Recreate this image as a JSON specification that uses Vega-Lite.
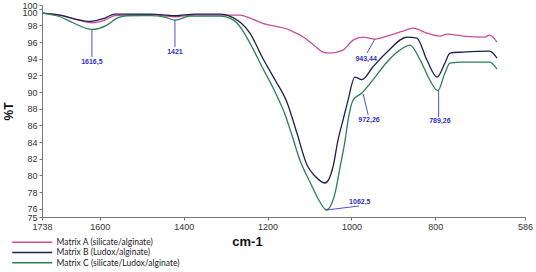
{
  "$schema": "https://vega.github.io/schema/vega-lite/v6.json",
  "width": 483,
  "height": 212,
  "autosize": "none",
  "padding": {"left": 42, "top": 5, "right": 11, "bottom": 55},
  "background": "white",
  "config": {
    "view": {"stroke": null},
    "font": "Liberation Sans",
    "axis": {"labelOverlap": false, "labelFlush": false, "grid": false, "labelFontSize": 9, "labelColor": "#333", "domainColor": "#777", "tickColor": "#777", "tickSize": 3, "titleColor": "#111", "titleFontWeight": "bold"}
  },
  "datasets": {
    "spectra": [
      {"series": "Matrix A (silicate/alginate)", "wn": 1738, "t": 99.48},
      {"series": "Matrix A (silicate/alginate)", "wn": 1695, "t": 99.24},
      {"series": "Matrix A (silicate/alginate)", "wn": 1659, "t": 98.76},
      {"series": "Matrix A (silicate/alginate)", "wn": 1619, "t": 98.32},
      {"series": "Matrix A (silicate/alginate)", "wn": 1588, "t": 98.64},
      {"series": "Matrix A (silicate/alginate)", "wn": 1564, "t": 99.18},
      {"series": "Matrix A (silicate/alginate)", "wn": 1480, "t": 99.3},
      {"series": "Matrix A (silicate/alginate)", "wn": 1421, "t": 99.04},
      {"series": "Matrix A (silicate/alginate)", "wn": 1373, "t": 99.24},
      {"series": "Matrix A (silicate/alginate)", "wn": 1266, "t": 99.24},
      {"series": "Matrix A (silicate/alginate)", "wn": 1242, "t": 98.88},
      {"series": "Matrix A (silicate/alginate)", "wn": 1213, "t": 98.28},
      {"series": "Matrix A (silicate/alginate)", "wn": 1147, "t": 97.44},
      {"series": "Matrix A (silicate/alginate)", "wn": 1111, "t": 96.48},
      {"series": "Matrix A (silicate/alginate)", "wn": 1087, "t": 95.52},
      {"series": "Matrix A (silicate/alginate)", "wn": 1068, "t": 94.8},
      {"series": "Matrix A (silicate/alginate)", "wn": 1051, "t": 94.68},
      {"series": "Matrix A (silicate/alginate)", "wn": 1020, "t": 95.04},
      {"series": "Matrix A (silicate/alginate)", "wn": 996, "t": 96.24},
      {"series": "Matrix A (silicate/alginate)", "wn": 972, "t": 96.6},
      {"series": "Matrix A (silicate/alginate)", "wn": 944, "t": 96.36},
      {"series": "Matrix A (silicate/alginate)", "wn": 915, "t": 96.72},
      {"series": "Matrix A (silicate/alginate)", "wn": 877, "t": 97.32},
      {"series": "Matrix A (silicate/alginate)", "wn": 853, "t": 97.68},
      {"series": "Matrix A (silicate/alginate)", "wn": 820, "t": 97.08},
      {"series": "Matrix A (silicate/alginate)", "wn": 789, "t": 96.72},
      {"series": "Matrix A (silicate/alginate)", "wn": 772, "t": 96.96},
      {"series": "Matrix A (silicate/alginate)", "wn": 734, "t": 96.72},
      {"series": "Matrix A (silicate/alginate)", "wn": 682, "t": 96.6},
      {"series": "Matrix A (silicate/alginate)", "wn": 670, "t": 96.84},
      {"series": "Matrix A (silicate/alginate)", "wn": 653, "t": 96.0},
      {"series": "Matrix B (Ludox/alginate)", "wn": 1738, "t": 99.48},
      {"series": "Matrix B (Ludox/alginate)", "wn": 1695, "t": 99.24},
      {"series": "Matrix B (Ludox/alginate)", "wn": 1659, "t": 98.76},
      {"series": "Matrix B (Ludox/alginate)", "wn": 1623, "t": 98.48},
      {"series": "Matrix B (Ludox/alginate)", "wn": 1588, "t": 98.88},
      {"series": "Matrix B (Ludox/alginate)", "wn": 1564, "t": 99.36},
      {"series": "Matrix B (Ludox/alginate)", "wn": 1480, "t": 99.36},
      {"series": "Matrix B (Ludox/alginate)", "wn": 1421, "t": 99.16},
      {"series": "Matrix B (Ludox/alginate)", "wn": 1373, "t": 99.36},
      {"series": "Matrix B (Ludox/alginate)", "wn": 1313, "t": 99.36},
      {"series": "Matrix B (Ludox/alginate)", "wn": 1290, "t": 99.12},
      {"series": "Matrix B (Ludox/alginate)", "wn": 1266, "t": 98.4},
      {"series": "Matrix B (Ludox/alginate)", "wn": 1242, "t": 97.08},
      {"series": "Matrix B (Ludox/alginate)", "wn": 1213, "t": 94.2},
      {"series": "Matrix B (Ludox/alginate)", "wn": 1182, "t": 91.44},
      {"series": "Matrix B (Ludox/alginate)", "wn": 1154, "t": 88.8},
      {"series": "Matrix B (Ludox/alginate)", "wn": 1130, "t": 85.08},
      {"series": "Matrix B (Ludox/alginate)", "wn": 1106, "t": 81.24},
      {"series": "Matrix B (Ludox/alginate)", "wn": 1087, "t": 79.92},
      {"series": "Matrix B (Ludox/alginate)", "wn": 1063, "t": 79.08},
      {"series": "Matrix B (Ludox/alginate)", "wn": 1044, "t": 81.0},
      {"series": "Matrix B (Ludox/alginate)", "wn": 1032, "t": 84.24},
      {"series": "Matrix B (Ludox/alginate)", "wn": 1020, "t": 86.64},
      {"series": "Matrix B (Ludox/alginate)", "wn": 1008, "t": 89.04},
      {"series": "Matrix B (Ludox/alginate)", "wn": 992, "t": 91.8},
      {"series": "Matrix B (Ludox/alginate)", "wn": 975, "t": 91.5},
      {"series": "Matrix B (Ludox/alginate)", "wn": 949, "t": 93.0},
      {"series": "Matrix B (Ludox/alginate)", "wn": 915, "t": 94.8},
      {"series": "Matrix B (Ludox/alginate)", "wn": 867, "t": 96.6},
      {"series": "Matrix B (Ludox/alginate)", "wn": 844, "t": 96.48},
      {"series": "Matrix B (Ludox/alginate)", "wn": 820, "t": 93.84},
      {"series": "Matrix B (Ludox/alginate)", "wn": 796, "t": 91.8},
      {"series": "Matrix B (Ludox/alginate)", "wn": 777, "t": 93.48},
      {"series": "Matrix B (Ludox/alginate)", "wn": 765, "t": 94.68},
      {"series": "Matrix B (Ludox/alginate)", "wn": 734, "t": 94.8},
      {"series": "Matrix B (Ludox/alginate)", "wn": 670, "t": 94.92},
      {"series": "Matrix B (Ludox/alginate)", "wn": 653, "t": 94.08},
      {"series": "Matrix C (silicate/Ludox/alginate)", "wn": 1738, "t": 99.48},
      {"series": "Matrix C (silicate/Ludox/alginate)", "wn": 1695, "t": 99.04},
      {"series": "Matrix C (silicate/Ludox/alginate)", "wn": 1664, "t": 98.32},
      {"series": "Matrix C (silicate/Ludox/alginate)", "wn": 1619, "t": 97.52},
      {"series": "Matrix C (silicate/Ludox/alginate)", "wn": 1583, "t": 98.04},
      {"series": "Matrix C (silicate/Ludox/alginate)", "wn": 1559, "t": 98.88},
      {"series": "Matrix C (silicate/Ludox/alginate)", "wn": 1535, "t": 99.16},
      {"series": "Matrix C (silicate/Ludox/alginate)", "wn": 1480, "t": 99.18},
      {"series": "Matrix C (silicate/Ludox/alginate)", "wn": 1445, "t": 99.0},
      {"series": "Matrix C (silicate/Ludox/alginate)", "wn": 1421, "t": 98.64},
      {"series": "Matrix C (silicate/Ludox/alginate)", "wn": 1385, "t": 99.12},
      {"series": "Matrix C (silicate/Ludox/alginate)", "wn": 1313, "t": 99.12},
      {"series": "Matrix C (silicate/Ludox/alginate)", "wn": 1290, "t": 98.88},
      {"series": "Matrix C (silicate/Ludox/alginate)", "wn": 1273, "t": 98.28},
      {"series": "Matrix C (silicate/Ludox/alginate)", "wn": 1242, "t": 95.88},
      {"series": "Matrix C (silicate/Ludox/alginate)", "wn": 1213, "t": 93.0},
      {"series": "Matrix C (silicate/Ludox/alginate)", "wn": 1182, "t": 90.0},
      {"series": "Matrix C (silicate/Ludox/alginate)", "wn": 1158, "t": 87.24},
      {"series": "Matrix C (silicate/Ludox/alginate)", "wn": 1142, "t": 84.84},
      {"series": "Matrix C (silicate/Ludox/alginate)", "wn": 1123, "t": 81.84},
      {"series": "Matrix C (silicate/Ludox/alginate)", "wn": 1099, "t": 79.2},
      {"series": "Matrix C (silicate/Ludox/alginate)", "wn": 1075, "t": 76.8},
      {"series": "Matrix C (silicate/Ludox/alginate)", "wn": 1060, "t": 75.84},
      {"series": "Matrix C (silicate/Ludox/alginate)", "wn": 1039, "t": 77.88},
      {"series": "Matrix C (silicate/Ludox/alginate)", "wn": 1027, "t": 81.0},
      {"series": "Matrix C (silicate/Ludox/alginate)", "wn": 1015, "t": 84.24},
      {"series": "Matrix C (silicate/Ludox/alginate)", "wn": 1008, "t": 86.64},
      {"series": "Matrix C (silicate/Ludox/alginate)", "wn": 996, "t": 89.04},
      {"series": "Matrix C (silicate/Ludox/alginate)", "wn": 975, "t": 89.88},
      {"series": "Matrix C (silicate/Ludox/alginate)", "wn": 949, "t": 91.44},
      {"series": "Matrix C (silicate/Ludox/alginate)", "wn": 915, "t": 93.6},
      {"series": "Matrix C (silicate/Ludox/alginate)", "wn": 891, "t": 94.8},
      {"series": "Matrix C (silicate/Ludox/alginate)", "wn": 860, "t": 95.64},
      {"series": "Matrix C (silicate/Ludox/alginate)", "wn": 836, "t": 93.84},
      {"series": "Matrix C (silicate/Ludox/alginate)", "wn": 813, "t": 91.44},
      {"series": "Matrix C (silicate/Ludox/alginate)", "wn": 794, "t": 90.16},
      {"series": "Matrix C (silicate/Ludox/alginate)", "wn": 777, "t": 92.28},
      {"series": "Matrix C (silicate/Ludox/alginate)", "wn": 765, "t": 93.48},
      {"series": "Matrix C (silicate/Ludox/alginate)", "wn": 734, "t": 93.6},
      {"series": "Matrix C (silicate/Ludox/alginate)", "wn": 670, "t": 93.6},
      {"series": "Matrix C (silicate/Ludox/alginate)", "wn": 653, "t": 92.76}
    ],
    "notes": [
      {"label": "1616,5", "x1": 1619, "y1": 97.52, "x2": 1619, "y2": 94.2, "tx": 1619, "ty": 93.6},
      {"label": "1421", "x1": 1421, "y1": 98.64, "x2": 1421, "y2": 95.4, "tx": 1421, "ty": 94.8},
      {"label": "943,44", "x1": 944, "y1": 96.36, "x2": 963, "y2": 94.68, "tx": 965, "ty": 93.96},
      {"label": "972,26", "x1": 972, "y1": 89.76, "x2": 960, "y2": 87.24, "tx": 958, "ty": 86.64},
      {"label": "789,26", "x1": 792, "y1": 90.16, "x2": 792, "y2": 87.0, "tx": 789, "ty": 86.5},
      {"label": "1062,5", "x1": 1060, "y1": 75.84, "x2": 982, "y2": 76.32, "tx": 980, "ty": 76.85}
    ]
  },
  "layer": [
    {
      "data": {"name": "spectra"},
      "mark": {"type": "line", "strokeWidth": 1.3, "interpolate": "monotone"},
      "encoding": {
        "x": {
          "field": "wn", "type": "quantitative",
          "scale": {"domain": [1738, 586], "nice": false, "zero": false},
          "axis": {
            "values": [1738, 1600, 1400, 1200, 1000, 800, 586],
            "tickCount": 20,
            "format": "d",
            "title": "cm-1",
            "titleFontSize": 13,
            "titleAnchor": "start",
            "titleAlign": "center",
            "titleX": 205,
            "titleY": 28,
            "titleBaseline": "alphabetic"
          }
        },
        "y": {
          "field": "t", "type": "quantitative",
          "scale": {"domain": [75, 100.45], "nice": false, "zero": false},
          "axis": {
            "values": [75, 76, 78, 80, 82, 84, 86, 88, 90, 92, 94, 96, 98, 100, 100.45],
            "tickCount": 30,
            "labelExpr": "datum.value > 100.2 ? '100' : format(datum.value, 'd')",
            "labelBaseline": {"condition": {"test": "datum.value == 100", "value": "top"}, "value": "middle"},
            "title": "%T",
            "titleFontSize": 12,
            "titlePadding": 6
          }
        },
        "color": {
          "field": "series", "type": "nominal",
          "scale": {
            "domain": ["Matrix A (silicate/alginate)", "Matrix B (Ludox/alginate)", "Matrix C (silicate/Ludox/alginate)"],
            "range": ["#cc4c98", "#1e1e50", "#2e7f52"]
          },
          "legend": {
            "title": null,
            "orient": "none",
            "legendX": -14,
            "legendY": 233,
            "symbolType": "M-10,0H10",
            "symbolSize": 16,
            "symbolStrokeWidth": 1.5,
            "labelFont": "Lato",
            "labelFontSize": 8.5,
            "labelColor": "#222",
            "labelOffset": 20,
            "rowPadding": 1.2
          }
        }
      }
    },
    {
      "data": {"name": "notes"},
      "mark": {"type": "rule", "color": "#3b3bcf", "strokeWidth": 0.9},
      "encoding": {
        "x": {"field": "x1", "type": "quantitative"},
        "y": {"field": "y1", "type": "quantitative"},
        "x2": {"field": "x2"},
        "y2": {"field": "y2"}
      }
    },
    {
      "data": {"name": "notes"},
      "mark": {"type": "text", "color": "#3030c0", "fontSize": 7, "fontWeight": "bold", "baseline": "middle", "align": "center"},
      "encoding": {
        "x": {"field": "tx", "type": "quantitative"},
        "y": {"field": "ty", "type": "quantitative"},
        "text": {"field": "label"}
      }
    }
  ]
}
